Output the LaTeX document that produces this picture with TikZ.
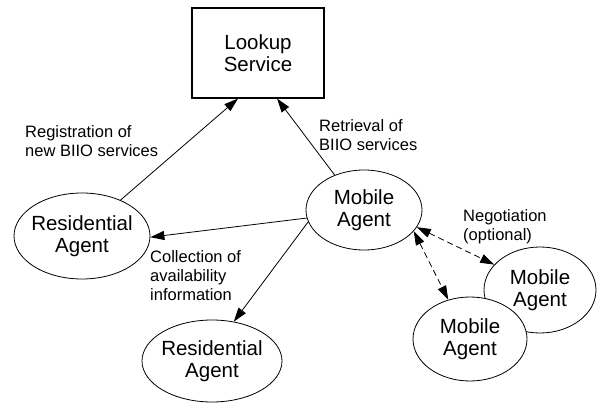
\documentclass[tikz,border=0pt]{standalone}
\usepackage{fontspec}
\setmainfont{Liberation Sans}
\usetikzlibrary{shapes.geometric,arrows.meta}
\begin{document}
\begin{tikzpicture}[x=1pt,y=-1pt,
  agent/.style={ellipse,draw,line width=0.8pt,fill=white,inner xsep=-25pt,inner ysep=-15pt,align=center,font=\fontsize{20.5}{22}\selectfont},
  box/.style={rectangle,draw,line width=1.1pt,inner sep=0pt,align=center,font=\fontsize{20.5}{22}\selectfont},
  lbl/.style={anchor=base west,inner sep=0pt,align=left,font=\fontsize{16.5}{19}\selectfont},
  tip/.tip={Triangle[length=14pt,width=9pt]},
  arr/.style={-tip,line width=0.8pt},
  darr/.style={tip-tip,dash pattern=on 6pt off 4pt,line width=0.8pt}]
\useasboundingbox (0,0) rectangle (597,403);
\node[box,minimum width=132pt,minimum height=90pt] (lookup) at (258,53) {Lookup\\Service};
\node[agent,minimum width=136pt,minimum height=86pt] (res1) at (82,236) {Residential\\Agent};
\node[agent,minimum width=116pt,minimum height=80pt] (mob) at (364,210) {Mobile\\Agent};
\node[agent,minimum width=140pt,minimum height=82pt] (res2) at (212,361) {Residential\\Agent};
\node[agent,minimum width=112pt,minimum height=86pt] (mobr) at (540,290) {Mobile\\Agent};
\node[agent,minimum width=114pt,minimum height=84pt] (mobb) at (470,339) {Mobile\\Agent};

\draw[arr] (res1.43) -- ([xshift=-20pt]lookup.south);
\draw[arr] (mob.130) -- ([xshift=19pt]lookup.south);
\draw[arr] (mob.188) -- (res1.-1);
\draw[arr] (mob.192) -- (res2.61);
\draw[darr] (mob.-18) -- (mobr.151);
\draw[darr] (mob.-23.5) -- (mobb.119);

\node[lbl] (lreg) at (25,157) {Registration of\\new BIIO services};
\node[lbl] (lret) at (319,151) {Retrieval of\\BIIO services};
\node[lbl] (lcol) at (150,301) {Collection of\\availability\\information};
\node[lbl] (lneg) at (463,241) {Negotiation\\(optional)};
\end{tikzpicture}
\end{document}
